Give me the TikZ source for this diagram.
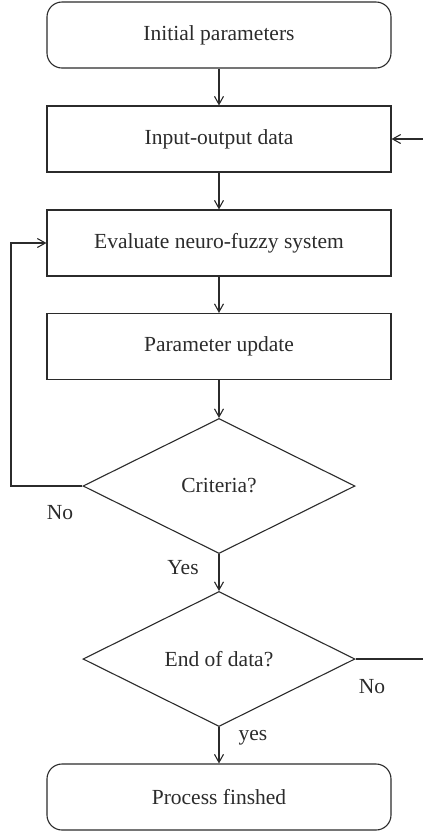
\documentclass[tikz,border=0pt]{standalone}
\usepackage{fontspec}
\setmainfont{Liberation Serif}
\usetikzlibrary{shapes.geometric,arrows.meta}
\definecolor{ink}{HTML}{2B2B2B}
\begin{document}
\begin{tikzpicture}[x=1pt,y=-1pt,
  every node/.style={font=\fontsize{21.5}{25}\selectfont, text=ink},
  termbox/.style={draw=ink, line width=1.1pt, rounded corners=15pt, minimum width=344pt, minimum height=66pt, inner sep=0pt},
  procbox/.style={draw=ink, line width=1.1pt, minimum width=344pt, minimum height=66pt, inner sep=0pt},
  decision/.style={draw=ink, line width=1.1pt, diamond, shape aspect=2, minimum width=272pt, minimum height=135pt, inner sep=0pt},
  flow/.style={draw=ink, line width=1.1pt, -{Straight Barb[length=8pt,width=9pt,line width=1.1pt]}},
  plain/.style={draw=ink, line width=1.1pt}]
\useasboundingbox (0,0) rectangle (423,831);

\node[termbox] (init) at (219,35) {Initial parameters};
\node[procbox] (io) at (219,139) {Input-output data};
\node[procbox] (eval) at (219,243) {Evaluate neuro-fuzzy system};
\node[procbox] (upd) at (219,346.5) {Parameter update};
\node[decision] (crit) at (219,486) {Criteria?};
\node[decision] (eod) at (219,659) {End of data?};
\node[termbox] (done) at (219,797) {Process finshed};

\coordinate (loopcorner) at (11,486);
\coordinate (nextin) at (423,139);
\coordinate (nextout) at (423,659);

\draw[flow] (init) -- (io);
\draw[flow] (io) -- (eval);
\draw[flow] (eval) -- (upd);
\draw[flow] (upd) -- (crit);
\draw[flow] (crit) -- (eod);
\draw[flow] (eod) -- (done);
\draw[flow] (crit.west) -- (loopcorner) |- (eval.west);
\draw[plain] (eod.east) -- (nextout);
\draw[flow] (nextin) -- (io.east);

\node (lno) at (60,513) {No};
\node (lyes) at (183,568) {Yes};
\node (rno) at (372,687) {No};
\node (ryes) at (253,738) {yes};
\end{tikzpicture}
\end{document}
